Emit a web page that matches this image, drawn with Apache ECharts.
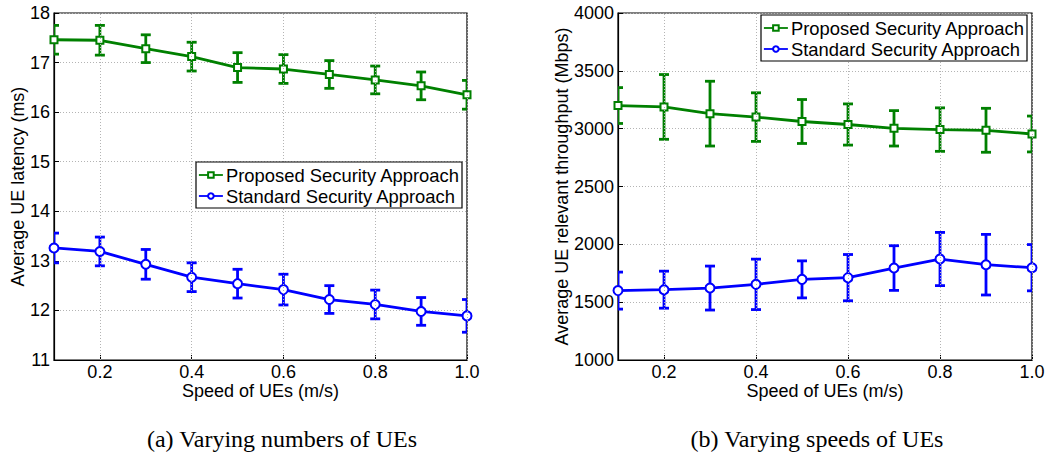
<!DOCTYPE html>
<html>
<head>
<meta charset="utf-8">
<script src="https://cdn.jsdelivr.net/npm/echarts@6/dist/echarts.min.js"></script>
<style>
  html, body { margin: 0; padding: 0; background: #fff; }
  #chart { width: 1051px; height: 456px; }
</style>
</head>
<body>
<div id="chart"></div>
<script>
// Speed of UEs (m/s)
const speeds = [0.1, 0.2, 0.3, 0.4, 0.5, 0.6, 0.7, 0.8, 0.9, 1.0];
const speedTicks = [0.2, 0.4, 0.6, 0.8, 1.0];

// (a) average UE latency (ms), mean and half-width of the error bar
const latencyProposed    = [17.46, 17.45, 17.28, 17.12, 16.90, 16.87, 16.76, 16.65, 16.53, 16.35];
const latencyProposedErr = [0.29, 0.30, 0.28, 0.29, 0.30, 0.29, 0.28, 0.28, 0.28, 0.29];
const latencyStandard    = [13.26, 13.19, 12.93, 12.67, 12.54, 12.42, 12.22, 12.12, 11.98, 11.89];
const latencyStandardErr = [0.30, 0.29, 0.30, 0.29, 0.29, 0.31, 0.28, 0.29, 0.28, 0.33];

// (b) average UE relevant throughput (Mbps)
const throughputProposed    = [3200, 3188, 3130, 3100, 3062, 3036, 3003, 2992, 2986, 2954];
const throughputProposedErr = [155, 280, 280, 210, 190, 178, 153, 188, 190, 155];
const throughputStandard    = [1600, 1608, 1622, 1654, 1697, 1712, 1795, 1873, 1824, 1798];
const throughputStandardErr = [160, 160, 190, 218, 160, 200, 193, 230, 262, 200];

const seriesNames = ['Proposed Security Approach', 'Standard Security Approach'];
const captions = ['(a) Varying numbers of UEs', '(b) Varying speeds of UEs'];

const GREEN = '#008000';
const BLUE = '#0000ff';
const FONT = 'Liberation Sans, Arial, sans-serif';
const SERIF = 'Liberation Serif, serif';

function pairs(ys) { return speeds.map((x, i) => [x, ys[i]]); }

// error bar: vertical whisker with horizontal caps
function errorSeries(idx, ys, errs, color) {
  return {
    type: 'custom',
    xAxisIndex: idx, yAxisIndex: idx,
    clip: true,
    silent: true,
    z: 3,
    data: speeds.map((x, i) => [x, ys[i] - errs[i], ys[i] + errs[i]]),
    renderItem: function (params, api) {
      const lo = api.coord([api.value(0), api.value(1)]);
      const hi = api.coord([api.value(0), api.value(2)]);
      const cap = 5;
      const style = { stroke: color, lineWidth: 2.8, fill: null };
      return {
        type: 'group',
        children: [
          { type: 'line', shape: { x1: lo[0], y1: lo[1], x2: hi[0], y2: hi[1] }, style: style },
          { type: 'line', shape: { x1: lo[0] - cap, y1: lo[1], x2: lo[0] + cap, y2: lo[1] }, style: style },
          { type: 'line', shape: { x1: hi[0] - cap, y1: hi[1], x2: hi[0] + cap, y2: hi[1] }, style: style }
        ]
      };
    }
  };
}

function lineSeries(idx, name, ys, color, symbol, size) {
  return {
    type: 'line', name: name,
    xAxisIndex: idx, yAxisIndex: idx,
    data: pairs(ys),
    clip: true,
    z: 4,
    symbol: symbol, symbolSize: size,
    lineStyle: { color: color, width: 2.8 },
    itemStyle: { color: color, borderColor: color, borderWidth: 2.4 },
    emphasis: { disabled: true }
  };
}

function gridLines(idx) {
  return {
    type: 'line', xAxisIndex: idx, yAxisIndex: idx, data: [], silent: true,
    markLine: {
      silent: true, symbol: 'none', animation: false,
      label: { show: false },
      lineStyle: { color: '#b4b4b4', type: [1, 2], width: 1 },
      data: speedTicks.map(v => ({ xAxis: v }))
    }
  };
}

function xAxisCfg(idx) {
  return {
    type: 'value', gridIndex: idx, min: 0.1, max: 1.0,
    name: 'Speed of UEs (m/s)', nameLocation: 'middle', nameGap: 22, nameMoveOverlap: false,
    nameTextStyle: { fontFamily: FONT, fontSize: 18, color: '#000', lineHeight: 18 },
    axisLine: { show: true, lineStyle: { color: '#000', width: 1.2 } },
    axisTick: { show: true, inside: true, length: 5, customValues: speedTicks, lineStyle: { color: '#000' } },
    axisLabel: { customValues: speedTicks, formatter: v => v.toFixed(1), fontFamily: FONT, fontSize: 18, lineHeight: 18, color: '#000', margin: 3 },
    splitLine: { show: false }
  };
}

function yAxisCfg(idx, name, min, max, step, gap) {
  return {
    type: 'value', gridIndex: idx, min: min, max: max, interval: step,
    name: name, nameLocation: 'middle', nameGap: gap, nameMoveOverlap: false,
    nameTextStyle: { fontFamily: FONT, fontSize: 18, color: '#000' },
    axisLine: { show: true, lineStyle: { color: '#000', width: 1.2 } },
    axisTick: { show: true, inside: true, length: 5, lineStyle: { color: '#000' } },
    axisLabel: { formatter: v => String(v), fontFamily: FONT, fontSize: 18, color: '#000', margin: 4 },
    splitLine: { show: true, lineStyle: { color: '#b4b4b4', type: [1, 2], width: 1 } }
  };
}

function legendCfg(left, top) {
  return {
    left: left, top: top, orient: 'vertical',
    data: seriesNames.map(n => ({ name: n })),
    backgroundColor: '#fff', borderColor: '#000', borderWidth: 1.2,
    padding: [4, 2, 3, 2], itemGap: 3, itemWidth: 24, itemHeight: 7,
    selectedMode: false,
    lineStyle: { width: 1.8 },
    itemStyle: { borderWidth: 1.2 },
    textStyle: { fontFamily: FONT, fontSize: 18.4, color: '#000', padding: [0, 0, 0, -2] },
    z: 10
  };
}

const chart = echarts.init(document.getElementById('chart'), null, { renderer: 'svg' });
chart.setOption({
  animation: false,
  backgroundColor: '#fff',
  title: [
    { text: captions[0], left: 277, top: 422, textAlign: 'center',
      textStyle: { fontFamily: SERIF, fontWeight: 'normal', fontSize: 24, color: '#000' } },
    { text: captions[1], left: 812, top: 422, textAlign: 'center',
      textStyle: { fontFamily: SERIF, fontWeight: 'normal', fontSize: 24, color: '#000' } }
  ],
  grid: [
    { left: 54, top: 13, width: 413, height: 347, show: true, borderColor: '#000', borderWidth: 1.2, backgroundColor: 'transparent' },
    { left: 618, top: 13, width: 414, height: 347, show: true, borderColor: '#000', borderWidth: 1.2, backgroundColor: 'transparent' }
  ],
  xAxis: [xAxisCfg(0), xAxisCfg(1)],
  yAxis: [
    yAxisCfg(0, 'Average UE latency (ms)', 11, 18, 1, 27),
    yAxisCfg(1, 'Average UE relevant throughput (Mbps)', 1000, 4000, 500, 47)
  ],
  legend: [legendCfg(196, 162), legendCfg(761, 15)],
  series: [
    gridLines(0),
    gridLines(1),
    errorSeries(0, latencyProposed, latencyProposedErr, GREEN),
    errorSeries(0, latencyStandard, latencyStandardErr, BLUE),
    lineSeries(0, seriesNames[0], latencyProposed, GREEN, 'emptyRect', 7),
    lineSeries(0, seriesNames[1], latencyStandard, BLUE, 'emptyCircle', 9),
    errorSeries(1, throughputProposed, throughputProposedErr, GREEN),
    errorSeries(1, throughputStandard, throughputStandardErr, BLUE),
    lineSeries(1, seriesNames[0], throughputProposed, GREEN, 'emptyRect', 7),
    lineSeries(1, seriesNames[1], throughputStandard, BLUE, 'emptyCircle', 9)
  ]
});
</script>
</body>
</html>
